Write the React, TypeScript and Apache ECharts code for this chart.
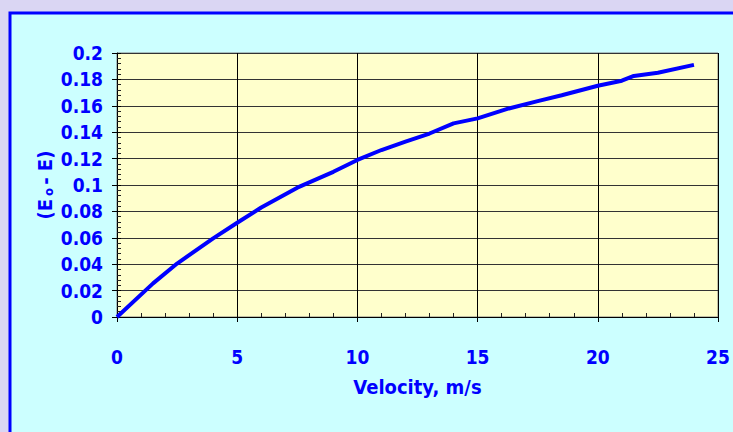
import React, { useEffect, useRef } from "react";
import * as echarts from "echarts";

const velocity = [0, 1.5, 2.5, 4, 5, 6, 7.5, 9, 10, 11, 12, 13, 14, 15, 16.3, 17.5, 18.5, 20, 21, 21.5, 22.5, 24];
const deltaE = [0, 0.0255, 0.0405, 0.0596, 0.0714, 0.083, 0.098, 0.11, 0.119, 0.1265, 0.1328, 0.139, 0.1467, 0.1505, 0.158, 0.1635, 0.168, 0.1752, 0.179, 0.1826, 0.185, 0.191];

const xTitle = "Velocity, m/s";
const yTitle = "(E{sub|o}- E)";

const FONT = "'Liberation Sans Narrow', 'Arial Narrow', 'DejaVu Sans Condensed', sans-serif";
const BLUE = "#0000FF";

export default function App() {
  const ref = useRef<HTMLDivElement>(null);
  useEffect(() => {
    if (!ref.current) return;
    const chart = echarts.init(ref.current, undefined, { renderer: "svg" });
    const data = velocity.map((v, i) => [v, deltaE[i]]);
    const labelStyle = { color: BLUE, fontFamily: FONT, fontWeight: "bold", fontSize: 19 };
    const gridRect = { left: 117, right: 15, top: 53, bottom: 115 };
    const outerTickAxis = {
      axisLabel: { show: false },
      axisLine: { show: false },
      splitLine: { show: false },
      axisTick: { show: true, inside: false, length: 5, lineStyle: { color: "#000", width: 1 } },
      z: 3,
    };
    chart.setOption({
      animation: false,
      backgroundColor: "#DAD6F3",
      graphic: [
        {
          type: "rect",
          z: -10,
          silent: true,
          shape: { x: 10, y: 13, width: 740, height: 440 },
          style: { fill: "#CCFFFF", stroke: BLUE, lineWidth: 3 },
        },
      ],
      grid: [
        {
          ...gridRect,
          show: true,
          backgroundColor: "#FFFFCC",
          borderColor: "#808080",
          borderWidth: 1,
          z: 0,
        },
        { ...gridRect, show: false, z: 2 },
      ],
      xAxis: [
        {
          type: "value",
          gridIndex: 0,
          min: 0,
          max: 25,
          interval: 5,
          name: xTitle,
          nameLocation: "middle",
          nameGap: 60,
          nameMoveOverlap: false,
          nameTextStyle: { ...labelStyle, fontSize: 20 },
          axisLine: { show: true, lineStyle: { color: "#000", width: 1 } },
          axisTick: { show: true, inside: true, length: 4, lineStyle: { color: "#000" } },
          minorTick: { show: true, splitNumber: 5, length: 4, lineStyle: { color: "#222", width: 1 } },
          splitLine: { show: true, lineStyle: { color: "#000", width: 1 } },
          axisLabel: { ...labelStyle, margin: 30 },
          z: 3,
        },
        {
          type: "value",
          gridIndex: 1,
          min: 0,
          max: 25,
          interval: 5,
          position: "bottom",
          ...outerTickAxis,
        },
      ],
      yAxis: [
        {
          type: "value",
          gridIndex: 0,
          min: 0,
          max: 0.2,
          interval: 0.02,
          name: yTitle,
          nameLocation: "middle",
          nameGap: 62,
          nameMoveOverlap: false,
          nameRotate: 90,
          nameTextStyle: {
            ...labelStyle,
            fontSize: 20,
            rich: {
              sub: { color: BLUE, fontFamily: FONT, fontWeight: "bold", fontSize: 13, padding: [6, 3, 0, 3] },
            },
          },
          axisLine: { show: true, lineStyle: { color: "#000", width: 1 } },
          axisTick: { show: true, inside: true, length: 4, lineStyle: { color: "#000" } },
          minorTick: { show: true, splitNumber: 5, length: 4, lineStyle: { color: "#222", width: 1 } },
          splitLine: { show: true, lineStyle: { color: "#333", width: 1 } },
          axisLabel: {
            ...labelStyle,
            margin: 14,
            formatter: (v: number) => String(Math.round(v * 100) / 100),
          },
          z: 3,
        },
        {
          type: "value",
          gridIndex: 1,
          min: 0,
          max: 0.2,
          interval: 0.02,
          position: "left",
          ...outerTickAxis,
        },
      ],
      series: [
        {
          type: "line",
          data,
          xAxisIndex: 0,
          yAxisIndex: 0,
          showSymbol: false,
          symbol: "none",
          smooth: false,
          lineStyle: { color: BLUE, width: 4 },
          z: 5,
        },
      ],
    });
    return () => chart.dispose();
  }, []);
  return (
    <div
      ref={ref}
      style={{ position: "fixed", left: 0, top: 0, width: 733, height: 432 }}
    />
  );
}
